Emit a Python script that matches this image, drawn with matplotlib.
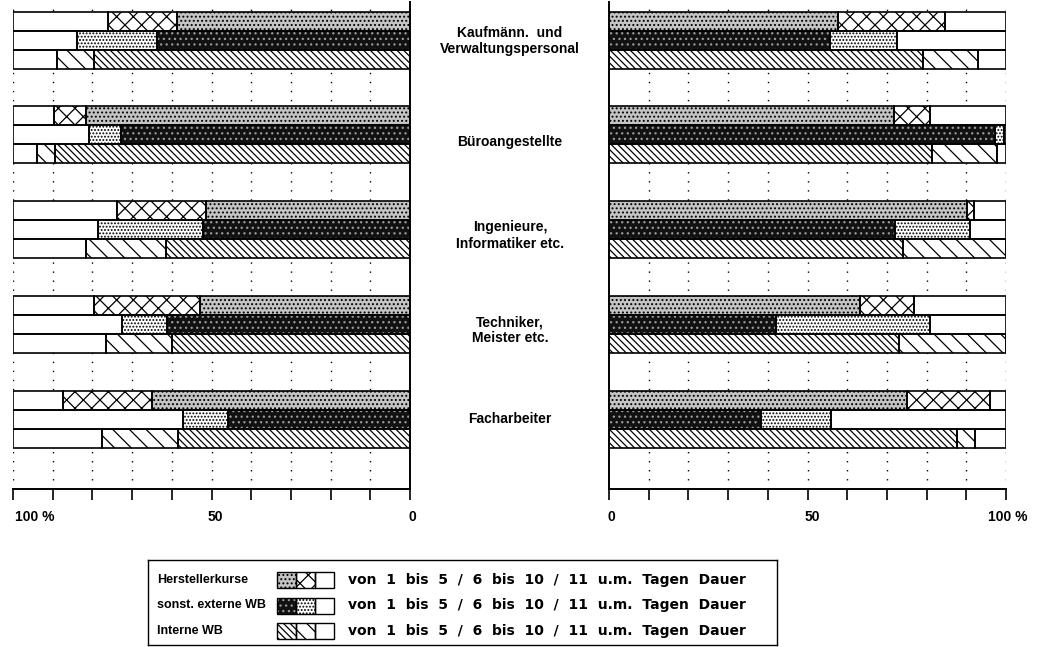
import matplotlib.pyplot as plt
from matplotlib.patches import Rectangle
import numpy as np

plt.rcParams['font.family'] = ['Liberation Sans', 'DejaVu Sans']
plt.rcParams['font.weight'] = 'bold'
plt.rcParams['hatch.linewidth'] = 0.9

# Kategorien (von oben nach unten)
categories = ['Kaufmänn.  und\nVerwaltungspersonal', 'Büroangestellte',
              'Ingenieure,\nInformatiker etc.', 'Techniker,\nMeister etc.',
              'Facharbeiter']
types = ['Herstellerkurse', 'sonst. externe WB', 'Interne WB']
dauer = 'von  1  bis  5  /  6  bis  10  /  11  u.m.  Tagen  Dauer'

# Anteile in % : 1-5 Tage, 6-10 Tage, 11 u.m. Tage
left_hersteller = [[58.7, 17.4, 23.9], [81.6, 8.1, 10.3], [51.4, 22.3, 26.3],
                   [52.9, 26.7, 20.4], [65.1, 22.2, 12.7]]
left_extern = [[63.8, 20.0, 16.2], [72.9, 7.9, 19.2], [52.2, 26.3, 21.5],
               [61.3, 11.3, 27.4], [45.9, 11.4, 42.7]]
left_intern = [[79.6, 9.4, 11.0], [89.3, 4.7, 6.0], [61.5, 20.2, 18.3],
               [60.0, 16.6, 23.4], [58.4, 19.1, 22.5]]

right_hersteller = [[57.6, 27.0, 15.4], [71.9, 9.0, 19.1], [90.3, 1.6, 8.1],
                    [63.1, 13.7, 23.2], [75.0, 21.0, 4.0]]
right_extern = [[55.7, 16.8, 27.5], [97.2, 2.4, 0.4], [72.0, 18.9, 9.1],
                [42.1, 38.8, 19.1], [38.3, 17.5, 44.2]]
right_intern = [[79.2, 13.7, 7.1], [81.3, 16.5, 2.2], [74.1, 25.9, 0.0],
                [73.1, 26.9, 0.0], [87.6, 4.6, 7.8]]

# (Fuellfarbe, Schraffurfarbe, Schraffur) je Segment
styles = [
    [('#c4c4c4', 'black', '....'), ('white', 'black', 'xx'), ('white', 'black', '')],
    [('#111111', '#9a9a9a', '...'), ('white', 'black', '.....'), ('white', 'black', '')],
    [('white', 'black', '\\\\\\\\\\'), ('white', 'black', '\\\\'), ('white', 'black', '')],
]

W, H = 1045, 647
fig = plt.figure(figsize=(W / 100, H / 100), dpi=100)

top, bottom = 2, 489
step = 94.7
first = 11.7
bh = 19


def segment(ax, x0, y0, w, h, st, lw=1.2):
    fc, hc, ht = st
    ax.add_patch(Rectangle((x0, y0), w, h, facecolor=fc, edgecolor=hc,
                           hatch=ht, linewidth=0, zorder=2))
    ax.add_patch(Rectangle((x0, y0), w, h, fill=False, edgecolor='black',
                           linewidth=lw, zorder=3))


def panel(x_left, data, reverse, labels):
    ax = fig.add_axes([x_left / W, 1 - bottom / H, 397 / W, (bottom - top) / H])
    ax.set_xlim((100, 0) if reverse else (0, 100))
    ax.set_ylim(bottom, top)
    for x in range(10, 101, 10):
        ax.plot([x, x], [bottom, top], color='black', lw=1.0,
                ls=(0, (1, 5.5)), zorder=1)
    for i in range(len(categories)):
        for j, series in enumerate(data):
            y0 = first + i * step + j * bh
            start = 0
            for k, val in enumerate(series[i]):
                segment(ax, start, y0, val, bh, styles[j][k])
                start += val
    for s in ['top', 'left', 'right', 'bottom']:
        ax.spines[s].set_visible(False)
    zero_side = 'right' if reverse else 'left'
    ax.spines[zero_side].set_visible(True)
    ax.spines[zero_side].set_linewidth(1.4)
    ax.spines['bottom'].set_visible(True)
    ax.spines['bottom'].set_linewidth(1.4)
    ax.set_xticks(range(0, 101, 10))
    ax.set_xticklabels([])
    ax.tick_params(axis='x', direction='out', length=8, width=1.2)
    ax.set_yticks([])
    for xv, lab, ha in labels:
        ax.text(xv, 517, lab, ha=ha, va='center', fontsize=10, clip_on=False)
    return ax


panel(13, [left_hersteller, left_extern, left_intern], True,
      [(99.5, '100 %', 'left'), (49.1, '50', 'center'), (-0.5, '0', 'center')])
panel(609, [right_hersteller, right_extern, right_intern], False,
      [(0.5, '0', 'center'), (51.1, '50', 'center'), (95.5, '100 %', 'left')])

label_shift = [1, 7, 6, 6, 0]
for i, cat in enumerate(categories):
    yc = first + i * step + 1.5 * bh + label_shift[i]
    fig.text(510 / W, 1 - yc / H, cat, ha='center', va='center',
             fontsize=10, linespacing=1.2)

# Legende
lax = fig.add_axes([148 / W, 1 - 645 / H, 629 / W, 85 / H])
lax.set_xlim(148, 777)
lax.set_ylim(645, 560)
lax.set_xticks([])
lax.set_yticks([])
for s in lax.spines.values():
    s.set_linewidth(1.0)
for j, name in enumerate(types):
    yc = 580 + j * 25.5
    lax.text(157, yc, name, ha='left', va='center', fontsize=9)
    for k in range(3):
        segment(lax, 277 + k * 19, yc - 8, 19, 16, styles[j][k], lw=1.0)
    lax.text(348, yc, dauer, ha='left', va='center', fontsize=10,
             family='DejaVu Sans')

fig.savefig('out.png', dpi=100)
